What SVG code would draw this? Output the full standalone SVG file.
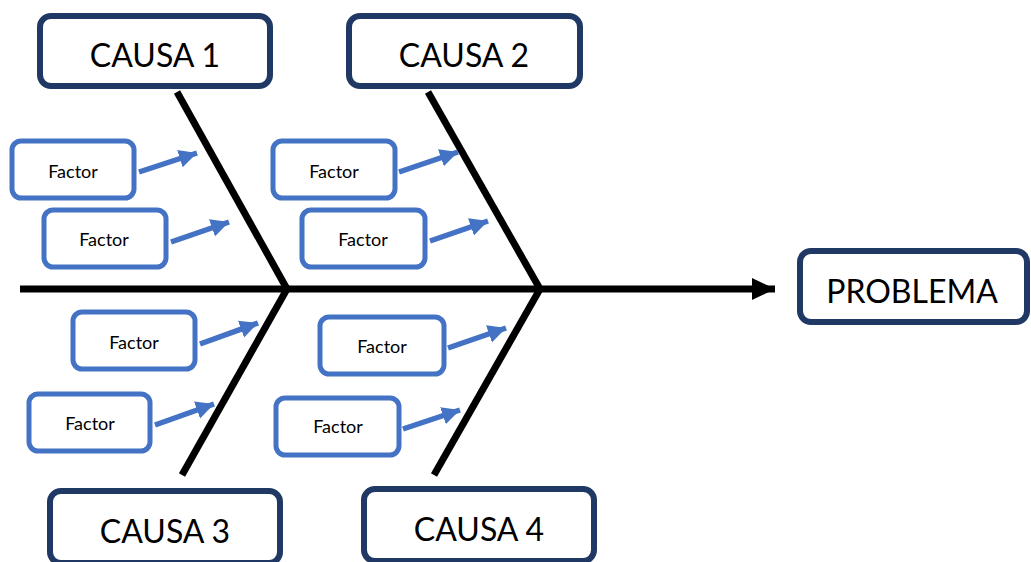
<svg xmlns="http://www.w3.org/2000/svg" width="1031" height="562" viewBox="0 0 1031 562">
  <style>
    .cause rect { fill: #ffffff; stroke: #203864; stroke-width: 6; }
    .cause text { font-family: Lato, "Open Sans", sans-serif; font-size: 32px; fill: #000000; text-anchor: middle; }
    .factor rect { fill: #ffffff; stroke: #4472C4; stroke-width: 5; }
    .factor text { font-family: Lato, "Open Sans", sans-serif; font-size: 18px; fill: #000000; text-anchor: middle; }
    .bone { stroke: #000000; stroke-width: 7; fill: none; }
    .feed { stroke: #4472C4; stroke-width: 5.5; fill: none; marker-end: url(#blueHead); }
  </style>
  <defs>
    <marker id="blueHead" markerUnits="userSpaceOnUse" markerWidth="20" markerHeight="20" refX="18" refY="9" orient="auto">
      <path d="M0,0 L18,9 L0,18 Z" fill="#4472C4"/>
    </marker>
    <marker id="blackHead" markerUnits="userSpaceOnUse" markerWidth="26" markerHeight="26" refX="23" refY="11" orient="auto">
      <path d="M0,0 L23,11 L0,22 Z" fill="#000000"/>
    </marker>
  </defs>

  <!-- spine and bones -->
  <g id="connectors">
    <line class="bone" x1="20" y1="289" x2="775" y2="289" marker-end="url(#blackHead)"/>
    <line class="bone" x1="177" y1="92" x2="287" y2="289"/>
    <line class="bone" x1="428" y1="92" x2="540" y2="289"/>
    <line class="bone" x1="287" y1="289" x2="182" y2="475"/>
    <line class="bone" x1="540" y1="289" x2="434" y2="475"/>

    <line class="feed" x1="139" y1="172" x2="197" y2="153"/>
    <line class="feed" x1="171" y1="242" x2="229" y2="222"/>
    <line class="feed" x1="200" y1="344" x2="258" y2="323"/>
    <line class="feed" x1="155" y1="425" x2="214" y2="404"/>
    <line class="feed" x1="399" y1="172" x2="458" y2="152"/>
    <line class="feed" x1="430" y1="241" x2="488" y2="221"/>
    <line class="feed" x1="448" y1="348" x2="506" y2="328"/>
    <line class="feed" x1="403" y1="429" x2="460" y2="410"/>
  </g>

  <!-- causes -->
  <g id="causa1" class="cause">
    <rect x="40" y="16" width="230" height="70" rx="11"/>
    <text x="155" y="67">CAUSA 1</text>
  </g>
  <g id="causa2" class="cause">
    <rect x="349" y="16" width="231" height="70" rx="11"/>
    <text x="464" y="67">CAUSA 2</text>
  </g>
  <g id="causa3" class="cause">
    <rect x="50" y="491" width="230" height="72" rx="11"/>
    <text x="165" y="543">CAUSA 3</text>
  </g>
  <g id="causa4" class="cause">
    <rect x="364" y="489" width="230" height="72" rx="11"/>
    <text x="479" y="541">CAUSA 4</text>
  </g>

  <!-- effect -->
  <g id="problema" class="cause">
    <rect x="800" y="251" width="227" height="71" rx="11"/>
    <text x="912" y="303">PROBLEMA</text>
  </g>

  <!-- factors -->
  <g id="factor1" class="factor">
    <rect x="12" y="141" width="122" height="57" rx="9"/>
    <text x="73" y="178">Factor</text>
  </g>
  <g id="factor2" class="factor">
    <rect x="44" y="210" width="122" height="57" rx="9"/>
    <text x="104" y="246">Factor</text>
  </g>
  <g id="factor3" class="factor">
    <rect x="73" y="312" width="122" height="57" rx="9"/>
    <text x="134" y="349">Factor</text>
  </g>
  <g id="factor4" class="factor">
    <rect x="29" y="394" width="121" height="57" rx="9"/>
    <text x="90" y="430">Factor</text>
  </g>
  <g id="factor5" class="factor">
    <rect x="273" y="141" width="122" height="57" rx="9"/>
    <text x="334" y="178">Factor</text>
  </g>
  <g id="factor6" class="factor">
    <rect x="302" y="210" width="123" height="57" rx="9"/>
    <text x="363" y="246">Factor</text>
  </g>
  <g id="factor7" class="factor">
    <rect x="320" y="317" width="124" height="57" rx="9"/>
    <text x="382" y="353">Factor</text>
  </g>
  <g id="factor8" class="factor">
    <rect x="276" y="398" width="123" height="57" rx="9"/>
    <text x="338" y="433">Factor</text>
  </g>
</svg>
